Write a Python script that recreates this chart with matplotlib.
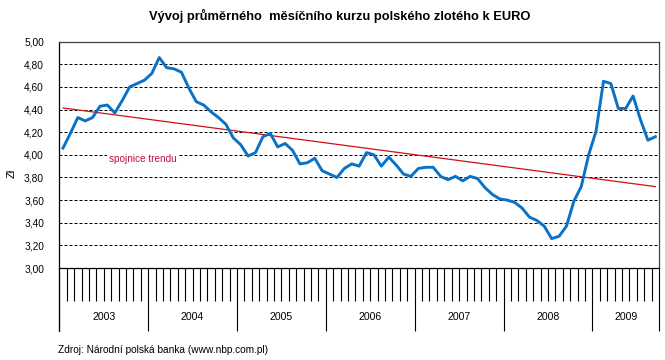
import numpy as np
import matplotlib
matplotlib.use("Agg")
import matplotlib.pyplot as plt
import matplotlib.transforms as mtransforms

plt.rcParams['font.family'] = ['Liberation Sans', 'DejaVu Sans']

years = ['2003', '2004', '2005', '2006', '2007', '2008', '2009']
months_per_year = [12, 12, 12, 12, 12, 12, 9]

rate_2003 = [4.06, 4.19, 4.33, 4.30, 4.33, 4.43, 4.44, 4.37, 4.48, 4.60, 4.63, 4.66]
rate_2004 = [4.72, 4.86, 4.77, 4.76, 4.73, 4.59, 4.47, 4.44, 4.38, 4.33, 4.27, 4.15]
rate_2005 = [4.09, 3.99, 4.02, 4.16, 4.19, 4.07, 4.10, 4.04, 3.92, 3.93, 3.97, 3.86]
rate_2006 = [3.83, 3.80, 3.88, 3.92, 3.90, 4.02, 4.00, 3.90, 3.98, 3.91, 3.83, 3.81]
rate_2007 = [3.88, 3.89, 3.89, 3.81, 3.78, 3.81, 3.77, 3.81, 3.79, 3.71, 3.65, 3.61]
rate_2008 = [3.60, 3.58, 3.53, 3.45, 3.42, 3.37, 3.26, 3.28, 3.37, 3.59, 3.72, 4.00]
rate_2009 = [4.21, 4.65, 4.63, 4.41, 4.41, 4.52, 4.31, 4.13, 4.16]

yticks = [3.0, 3.2, 3.4, 3.6, 3.8, 4.0, 4.2, 4.4, 4.6, 4.8, 5.0]

title = 'Vývoj průměrného  měsíčního kurzu polského zlotého k EURO'
ylabel = 'Zł'
trend_label = 'spojnice trendu'
source = 'Zdroj: Národní polská banka (www.nbp.com.pl)'

rates = np.array(rate_2003 + rate_2004 + rate_2005 + rate_2006 + rate_2007 + rate_2008 + rate_2009)
n = len(rates)
x = np.arange(n) + 0.5

W, H = 665, 360
fig = plt.figure(figsize=(W / 100, H / 100), dpi=100)
left, right, top, bottom = 59.3, 659.0, 41.7, 268.0
ax = fig.add_axes([left / W, 1 - bottom / H, (right - left) / W, (bottom - top) / H])

ax.set_xlim(0, n)
ax.set_ylim(3.0, 5.0)

# gridlines
for v in yticks[1:-1]:
    ax.axhline(v, color='black', lw=0.72, linestyle=(0, (3, 2)), zorder=1)

# trend line (linear least squares, like Excel's trendline)
coef = np.polyfit(x, rates, 1)
ax.plot([x[0], x[-1]], np.polyval(coef, [x[0], x[-1]]), color='#D01010', lw=0.9, zorder=2)

ax.plot(x, rates, color='#0A72C6', lw=2.1, zorder=3, solid_joinstyle='round')

ax.text(11.3, 3.962, trend_label, color='#C0103C', fontsize=7.2, ha='center', va='center',
        bbox=dict(facecolor='white', edgecolor='none', pad=1.5), zorder=2.5)

# y axis
ax.set_yticks(yticks)
ax.set_yticklabels([f'{v:.2f}'.replace('.', ',') for v in yticks], fontsize=7.3)
ax.tick_params(axis='y', length=0, pad=11)
ax.set_ylabel(ylabel, fontsize=8)
ax.yaxis.set_label_coords(-0.071, 0.42)

# x axis ticks: month separators and year separators
bounds = np.concatenate([[0], np.cumsum(months_per_year)])
ax.set_xticks(bounds)
ax.set_xticklabels([])
ax.set_xticks(np.arange(0, n + 1), minor=True)
ax.tick_params(axis='x', which='major', length=63 * 0.72, width=0.8, direction='out', color='black')
ax.tick_params(axis='x', which='minor', length=33 * 0.72, width=0.8, direction='out', color='black')

trans = mtransforms.blended_transform_factory(ax.transData, ax.transAxes)
for i, yr in enumerate(years):
    cx = (bounds[i] + bounds[i + 1]) / 2
    ax.text(cx, -(317 - bottom) / (bottom - top), yr, transform=trans, ha='center', va='center', fontsize=7.6)

for s in ['left', 'bottom']:
    ax.spines[s].set_color('black')
    ax.spines[s].set_linewidth(0.9)
for s in ['top', 'right']:
    ax.spines[s].set_color('#404040')
    ax.spines[s].set_linewidth(0.9)
for sp in ax.spines.values():
    sp.set_zorder(4)

# left axis extension down to bottom of the year band
fig.add_artist(plt.Line2D([left / W, left / W], [1 - 331 / H, 1 - bottom / H], color='black', lw=0.9,
                          transform=fig.transFigure))

fig.text(340 / W, 1 - 16 / H, title, ha='center', va='center', fontsize=9.3, fontweight='bold')
fig.text(58 / W, 1 - 350 / H, source, ha='left', va='center', fontsize=7.3)

fig.savefig('out.png', dpi=100, facecolor='white')
